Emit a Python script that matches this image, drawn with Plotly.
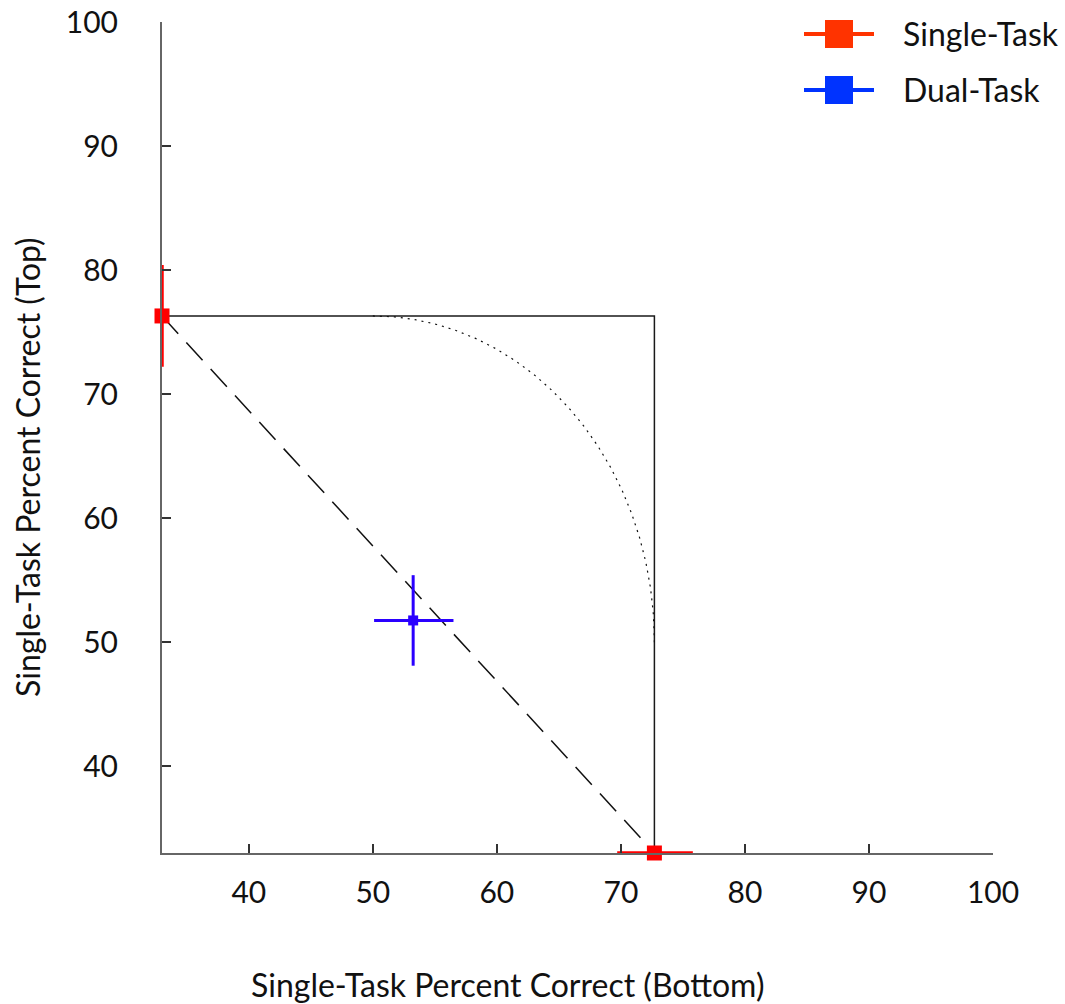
import numpy as np
import plotly.graph_objects as go

# ---- data ----
single_x = [33.0, 72.7]
single_y = [76.3, 33.0]
single_x_err_lo = [0.0, 3.0]
single_x_err_hi = [0.0, 3.1]
single_y_err_lo = [4.1, 0.0]
single_y_err_hi = [4.1, 0.0]

dual_x = [53.25]
dual_y = [51.75]
dual_x_err_lo = [3.15]
dual_x_err_hi = [3.25]
dual_y_err_lo = [3.65]
dual_y_err_hi = [3.65]

x_ticks = [40, 50, 60, 70, 80, 90, 100]
y_ticks = [40, 50, 60, 70, 80, 90, 100]
axis_min = 33.0

legend_names = ["Single-Task", "Dual-Task"]
legend_colors = ["#ff3300", "#0033ff"]

# independence ellipse centre (guide curve)
ell_cx, ell_cy = 50.0, 50.0

FONT = "Lato"
FS = 32
TICK_FS = 30
RED = "#ff0000"
BLUE = "#2a00ff"

# plot-area geometry in pixels
L, T, W, H = 162, 22, 831, 831
FIG_W, FIG_H = 1065, 1004


def px(xp):
    return (xp - L) / W


def py(yp):
    return (T + H - yp) / H


fig = go.Figure()

# bounding box (single-task reference)
fig.add_trace(go.Scatter(
    x=[single_x[0], single_x[1], single_x[1]],
    y=[single_y[0], single_y[0], single_y[1]],
    mode="lines", line=dict(color="#1a1a1a", width=1.5),
    showlegend=False, hoverinfo="skip"))

# dashed tradeoff line
fig.add_trace(go.Scatter(
    x=single_x, y=single_y, mode="lines",
    line=dict(color="#111111", width=1.5, dash="24px,12px"),
    showlegend=False, hoverinfo="skip"))

# dotted independence arc
t = np.linspace(0, np.pi / 2, 200)
rx = single_x[1] - ell_cx
ry = single_y[0] - ell_cy
fig.add_trace(go.Scatter(
    x=ell_cx + rx * np.sin(t), y=ell_cy + ry * np.cos(t), mode="lines",
    line=dict(color="#111111", width=1.2, dash="2px,5px"),
    showlegend=False, hoverinfo="skip"))

# single task points
fig.add_trace(go.Scatter(
    x=single_x, y=single_y, mode="markers", name=legend_names[0],
    marker=dict(symbol="square", size=15, color=RED),
    error_x=dict(type="data", symmetric=False, array=single_x_err_hi,
                 arrayminus=single_x_err_lo, color=RED, thickness=3.5, width=0),
    error_y=dict(type="data", symmetric=False, array=single_y_err_hi,
                 arrayminus=single_y_err_lo, color=RED, thickness=3.5, width=0),
    showlegend=False, cliponaxis=False))

# dual task point
fig.add_trace(go.Scatter(
    x=dual_x, y=dual_y, mode="markers", name=legend_names[1],
    marker=dict(symbol="square", size=10, color=BLUE),
    error_x=dict(type="data", symmetric=False, array=dual_x_err_hi,
                 arrayminus=dual_x_err_lo, color=BLUE, thickness=3, width=0),
    error_y=dict(type="data", symmetric=False, array=dual_y_err_hi,
                 arrayminus=dual_y_err_lo, color=BLUE, thickness=3, width=0),
    showlegend=False, cliponaxis=False))

# legend drawn as shapes + annotations (long line through a square)
shapes = []
annotations = []
for i, (name, col) in enumerate(zip(legend_names, legend_colors)):
    yc = 34 + i * 56
    shapes.append(dict(type="line", xref="paper", yref="paper",
                       x0=px(804), x1=px(874), y0=py(yc), y1=py(yc),
                       line=dict(color=col, width=4)))
    shapes.append(dict(type="rect", xref="paper", yref="paper",
                       x0=px(825), x1=px(853), y0=py(yc - 14), y1=py(yc + 14),
                       line=dict(width=0), fillcolor=col))
    annotations.append(dict(text=name, xref="paper", yref="paper",
                            x=px(901), y=py(yc), xanchor="left", yanchor="middle",
                            showarrow=False,
                            font=dict(family=FONT, size=FS, color="#111111")))

annotations.append(dict(text="Single-Task Percent Correct (Bottom)", xref="paper",
                        yref="paper", x=px(507), y=py(984), showarrow=False,
                        xanchor="center", yanchor="middle",
                        font=dict(family=FONT, size=FS, color="#111111")))
annotations.append(dict(text="Single-Task Percent Correct (Top)", xref="paper",
                        yref="paper", x=px(27), y=py(467), showarrow=False,
                        xanchor="center", yanchor="middle", textangle=-90,
                        font=dict(family=FONT, size=FS, color="#111111")))

axis_common = dict(
    showgrid=False, zeroline=False, showline=True, linecolor="#666666",
    linewidth=2, ticks="inside", ticklen=9, tickcolor="#333333", tickwidth=1.5,
    tickfont=dict(family=FONT, size=TICK_FS, color="#111111"), automargin=False,
)

fig.update_layout(
    width=FIG_W, height=FIG_H,
    margin=dict(l=L, r=FIG_W - L - W, t=T, b=FIG_H - T - H, autoexpand=False),
    paper_bgcolor="white", plot_bgcolor="white",
    font=dict(family=FONT, size=FS, color="#111111"),
    xaxis=dict(range=[axis_min, 100], tickvals=x_ticks,
               ticklabelstandoff=12, **axis_common),
    yaxis=dict(range=[axis_min, 100], tickvals=y_ticks,
               ticklabelstandoff=36, **axis_common),
    showlegend=False,
    shapes=shapes,
    annotations=annotations,
)

fig.write_html("out.html",
               config={"displayModeBar": False},
               post_script="document.body.style.margin='0';"
                           "document.body.style.overflow='hidden';")
